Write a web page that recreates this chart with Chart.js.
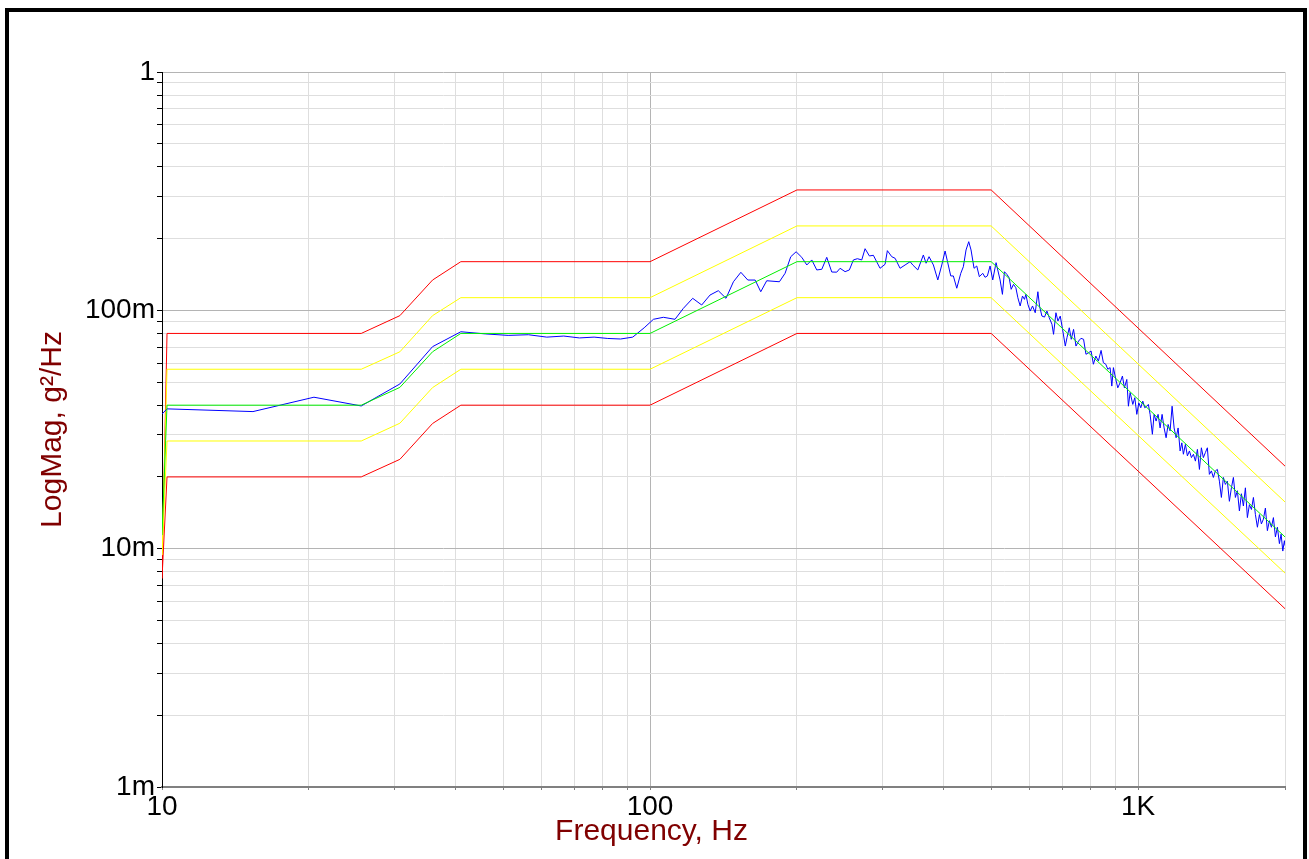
<!DOCTYPE html>
<html>
<head>
<meta charset="utf-8">
<script src="https://cdn.jsdelivr.net/npm/chart.js@4.4.1/dist/chart.umd.min.js"></script>
<style>
  html, body { margin: 0; padding: 0; background: #fff; }
  #wrap { position: relative; width: 1309px; height: 859px; overflow: hidden; }
  #psd { position: absolute; left: 0; top: 0; }
  #frame {
    position: absolute; left: 5px; top: 8px; width: 1294px; height: 900px;
    border: 4px solid #000; border-bottom: none; pointer-events: none;
  }
</style>
</head>
<body>
<div id="wrap">
  <canvas id="psd" width="1309" height="859"></canvas>
  <div id="frame"></div>
</div>
<script>
// control profile (reference, alarm and abort limits), g^2/Hz
const profileHz   = [10, 10.24, 25.6, 30.72, 35.84, 40.96, 100, 200, 500, 2000];
const profileMag  = [0.0114, 0.04, 0.04, 0.0475, 0.067, 0.08, 0.08, 0.16, 0.16, 0.0112];
const abortHigh   = [0.0075, 0.08, 0.08, 0.095, 0.134, 0.16, 0.16, 0.32, 0.32, 0.0222];
const alarmHigh   = [0.0094, 0.0566, 0.0566, 0.067, 0.095, 0.113, 0.113, 0.226, 0.226, 0.0157];
const alarmLow    = [0.0094, 0.0283, 0.0283, 0.0336, 0.0474, 0.0566, 0.0566, 0.113, 0.113, 0.0079];
const abortLow    = [0.0075, 0.02, 0.02, 0.0237, 0.0335, 0.04, 0.04, 0.08, 0.08, 0.0056];

// measured control PSD
const controlHz = [
  10, 10.24, 15.36, 20.48, 25.6, 30.72, 35.84, 40.96, 46.08, 51.2,
  56.32, 61.44, 66.56, 71.68, 76.8, 81.92, 87.04, 92.16, 97.28, 101.6,
  106.5, 112.5, 117.0, 122.3, 127.6, 132.7, 138.0, 143.1, 148.2, 153.5,
  158.6, 164.2, 168.6, 173.4, 184.1, 189.1, 194.2, 199.2, 204.6, 209.5,
  214.5, 219.6, 224.9, 230.2, 235.7, 241.3, 245.1, 251.0, 256.1, 261.0,
  266.0, 271.5, 275.8, 281.5, 286.8, 296.0, 303.1, 306.4, 312.8, 317.8,
  325.3, 333.1, 341.1, 345.4, 353.7, 363.1, 367.8, 373.0, 380.7, 388.7,
  396.1, 402.3, 413.2, 418.3, 425.1, 433.2, 438.5, 444.1, 449.8, 454.7,
  461.2, 467.1, 472.9, 480.5, 485.8, 491.1, 497.4, 503.7, 511.7, 521.5,
  527.3, 532.3, 538.4, 544.2, 549.5, 555.5, 561.8, 567.1, 573.3, 579.6,
  585.1, 589.0, 594.5, 601.1, 607.7, 615.5, 623.3, 628.1, 635.3, 643.1,
  650.4, 657.6, 666.1, 671.1, 678.7, 685.2, 692.7, 700.3, 709.3, 715.0,
  722.8, 729.6, 737.6, 746.0, 755.2, 763.7, 773.2, 782.0, 791.6, 801.2,
  809.9, 819.2, 829.3, 839.8, 849.0, 858.7, 866.8, 876.3, 883.4, 890.1,
  900.2, 908.7, 918.7, 928.7, 937.5, 948.2, 955.4, 963.1, 975.4, 984.7,
  994.0, 1003.4, 1012.8, 1022.4, 1032.1, 1041.9, 1049.8, 1058.3, 1069.8, 1078.5,
  1088.7, 1099.0, 1109.5, 1120.0, 1130.7, 1141.3, 1152.2, 1163.1, 1174.1, 1185.3,
  1196.5, 1207.9, 1219.3, 1229.2, 1238.4, 1250.2, 1262.0, 1274.0, 1286.2, 1298.4,
  1310.6, 1323.0, 1335.7, 1348.0, 1360.7, 1373.6, 1386.6, 1399.9, 1413.2, 1426.5,
  1440.0, 1453.7, 1467.6, 1481.4, 1495.4, 1509.5, 1523.8, 1538.4, 1553.2, 1567.8,
  1582.7, 1597.6, 1612.9, 1628.2, 1643.6, 1659.1, 1674.8, 1690.9, 1707.0, 1723.1,
  1739.4, 1755.9, 1772.7, 1789.3, 1806.2, 1823.3, 1840.5, 1858.1, 1875.9, 1893.6,
  1911.5, 1929.6, 1948.0, 1963.5, 1979.3, 1994.4, 2000
];
const controlMag = [
  0.0367, 0.0386, 0.0376, 0.0432, 0.0397, 0.0491, 0.0704, 0.0813, 0.0796, 0.0785,
  0.079, 0.0772, 0.078, 0.0766, 0.0772, 0.0762, 0.0758, 0.0772, 0.0845, 0.0917,
  0.0935, 0.0917, 0.1019, 0.1123, 0.1053, 0.1159, 0.1209, 0.1123, 0.1318, 0.1444,
  0.134, 0.134, 0.1197, 0.1331, 0.1318, 0.143, 0.1678, 0.1761, 0.1669, 0.155,
  0.1627, 0.1477, 0.1487, 0.1669, 0.1448, 0.1446, 0.1501, 0.1453, 0.1477, 0.1627,
  0.1647, 0.1627, 0.1814, 0.1691, 0.1702, 0.1501, 0.156, 0.178, 0.1679, 0.1653,
  0.1501, 0.155, 0.16, 0.155, 0.1477, 0.1707, 0.1576, 0.1679, 0.155, 0.1341,
  0.155, 0.1774, 0.1394, 0.1394, 0.1238, 0.143, 0.1524, 0.1792, 0.1941, 0.1792,
  0.1501, 0.1535, 0.1384, 0.143, 0.1376, 0.1394, 0.1535, 0.1341, 0.1585, 0.1341,
  0.1167, 0.1452, 0.1416, 0.137, 0.1225, 0.1285, 0.1244, 0.1129, 0.1043, 0.1148,
  0.1112, 0.1167, 0.106, 0.0993, 0.1043, 0.0977, 0.1197, 0.1043, 0.0946, 0.0937,
  0.0993, 0.0931, 0.0874, 0.0793, 0.0977, 0.0902, 0.0946, 0.0832, 0.0708, 0.0768,
  0.0845, 0.0756, 0.0832, 0.0708, 0.0743, 0.0763, 0.0756, 0.0654, 0.0664, 0.0675,
  0.0594, 0.0643, 0.0613, 0.0679, 0.0603, 0.0594, 0.0566, 0.0575, 0.0481, 0.0575,
  0.0513, 0.0473, 0.0497, 0.053, 0.0473, 0.0513, 0.0396, 0.0452, 0.0403, 0.043,
  0.0366, 0.0409, 0.039, 0.0416, 0.039, 0.0396, 0.0403, 0.0366, 0.0302, 0.0366,
  0.0343, 0.0366, 0.0321, 0.0366, 0.0321, 0.0292, 0.0332, 0.0312, 0.0396, 0.0321,
  0.0292, 0.0321, 0.0257, 0.0278, 0.0249, 0.0274, 0.0245, 0.0257, 0.0241, 0.0249,
  0.0233, 0.0261, 0.0215, 0.0265, 0.0241, 0.0253, 0.0265, 0.0205, 0.0212, 0.0199,
  0.0212, 0.0215, 0.0192, 0.0164, 0.0199, 0.0186, 0.0192, 0.0158, 0.018, 0.0199,
  0.0164, 0.0175, 0.0144, 0.017, 0.0151, 0.018, 0.0135, 0.0153, 0.0146, 0.0164,
  0.0139, 0.0123, 0.0139, 0.0127, 0.0133, 0.0148, 0.0119, 0.0131, 0.0123, 0.0135,
  0.0112, 0.0123, 0.0105, 0.0115, 0.00977, 0.0108, 0.0103
];

// axis decades and their labels
const xDecades = [10, 100, 1000];
const xTickLabels = ['10', '100', '1K'];
const yDecades = [0.001, 0.01, 0.1, 1];
const yTickLabels = ['1m', '10m', '100m', '1'];

const FONT = 'Arial, "Liberation Sans", sans-serif';

function pts(xs, ys) {
  return xs.map((x, i) => ({ x: x, y: ys[i] }));
}

function logTicks(decades, max) {
  const out = [];
  decades.forEach(d => {
    for (let m = 1; m <= 9; m++) {
      const v = m === 1 ? d : d * m;
      if (v <= max * 1.0001) out.push({ value: v });
    }
  });
  return out;
}

function line(data, color, order) {
  return {
    data: data, borderColor: color, borderWidth: 1, pointRadius: 0,
    tension: 0, fill: false, order: order
  };
}

// the x title sits centred on the whole window, not on the plot area
const freqTitle = {
  id: 'freqTitle',
  afterDraw(chart) {
    const c = chart.ctx;
    c.save();
    c.font = '30px ' + FONT;
    c.fillStyle = '#800000';
    c.textAlign = 'center';
    c.textBaseline = 'middle';
    c.fillText('Frequency, Hz', chart.width / 2 - 3, 832);
    c.restore();
  }
};

const ctx = document.getElementById('psd');
new Chart(ctx, {
  type: 'line',
  data: {
    datasets: [
      line(pts(profileHz, profileMag), '#00ee00', 0),
      line(pts(controlHz, controlMag), '#0000ff', 1),
      line(pts(profileHz, alarmHigh), '#ffff00', 2),
      line(pts(profileHz, alarmLow), '#ffff00', 2),
      line(pts(profileHz, abortHigh), '#ff0000', 3),
      line(pts(profileHz, abortLow), '#ff0000', 3),
    ],
  },
  plugins: [freqTitle],
  options: {
    responsive: false,
    animation: false,
    layout: { padding: { left: 0, top: 72, right: 24, bottom: 0 } },
    plugins: { legend: { display: false }, tooltip: { enabled: false } },
    scales: {
      x: {
        type: 'logarithmic',
        min: 10,
        max: 2000,
        afterFit: s => { s.height = 72 },
        afterBuildTicks: s => { s.ticks = logTicks(xDecades, 2000) },
        ticks: {
          autoSkip: false, maxRotation: 0, minRotation: 0, padding: 0,
          color: '#000', font: { family: FONT, size: 28 },
          callback: v => {
            const i = xDecades.indexOf(v);
            return i >= 0 ? xTickLabels[i] : '';
          },
        },
        grid: {
          color: c => (c.tick && xDecades.includes(c.tick.value)) ? '#b4b4b4' : '#dedede',
          tickColor: '#808080',
          tickLength: 3,
        },
        border: { color: '#808080', width: 2 },
      },
      y: {
        type: 'logarithmic',
        min: 0.001,
        max: 1,
        afterFit: s => { s.width = 162 },
        afterBuildTicks: s => { s.ticks = logTicks(yDecades, 1) },
        ticks: {
          autoSkip: false, padding: 2,
          color: '#000', font: { family: FONT, size: 28 },
          callback: v => {
            const i = yDecades.indexOf(v);
            return i >= 0 ? yTickLabels[i] : '';
          },
        },
        grid: {
          color: c => (c.tick && yDecades.includes(c.tick.value)) ? '#b4b4b4' : '#dedede',
          tickColor: '#000',
          tickLength: 5,
        },
        border: { color: '#000', width: 1 },
        title: {
          display: true, text: 'LogMag, g²/Hz', color: '#800000',
          font: { family: FONT, size: 30 }, padding: { top: 35, bottom: 0 },
        },
      },
    },
  },
})
</script>
</body>
</html>
